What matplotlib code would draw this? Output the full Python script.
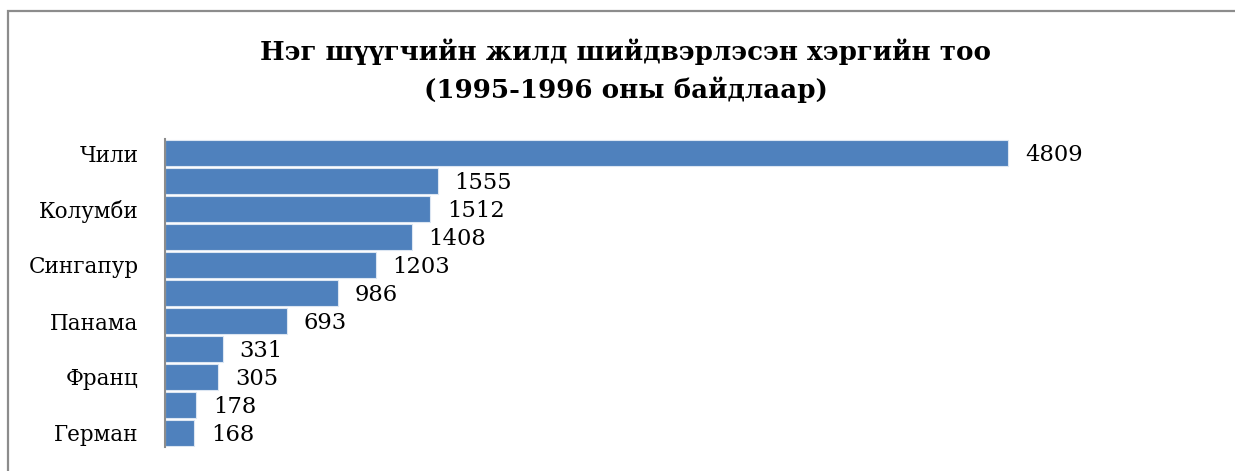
import matplotlib
matplotlib.use("Agg")
import matplotlib.pyplot as plt
from matplotlib.patches import Rectangle

categories = ["Чили", "", "Колумби", "", "Сингапур", "", "Панама", "", "Франц", "", "Герман"]
values = [4809, 1555, 1512, 1408, 1203, 986, 693, 331, 305, 178, 168]
title_lines = ["Нэг шүүгчийн жилд шийдвэрлэсэн хэргийн тоо", "(1995-1996 оны байдлаар)"]

W, H = 1235, 471
fig = plt.figure(figsize=(W / 100, H / 100), dpi=100)
plt.rcParams['font.family'] = ['DejaVu Serif']

# chart frame (cropped on right and bottom)
fig.patches.append(Rectangle((8 / W, -0.1), 1.2, 1 - 11 / H + 0.1, transform=fig.transFigure,
                             fill=False, edgecolor="#8c8c8c", linewidth=1.6))

ax = fig.add_axes([165 / W, 1 - 447 / H, (1217 - 165) / W, (447 - 139) / H])
y = list(range(len(values)))
ax.barh(y, values, height=0.91, color="#4F81BD", edgecolor="#dce6f2", linewidth=0.8)
ax.set_ylim(len(values) - 0.5, -0.5)
ax.set_xlim(0, 6000)
ax.set_yticks(y)
ax.set_yticklabels(categories, fontsize=15.5)
ax.tick_params(axis='y', length=0, pad=19)
ax.set_xticks([])
for s in ["top", "right", "bottom"]:
    ax.spines[s].set_visible(False)
ax.spines["left"].set_color("#8c8c8c")
ax.spines["left"].set_linewidth(1.5)

for yi, v in zip(y, values):
    ax.annotate(str(v), (v, yi), xytext=(12, -1.5), textcoords="offset points",
                va="center", ha="left", fontsize=16.3)

fig.text(626 / W, 1 - 52 / H, title_lines[0], ha="center", va="center",
         fontsize=18.8, fontweight="bold")
fig.text(626 / W, 1 - 90 / H, title_lines[1], ha="center", va="center",
         fontsize=18.8, fontweight="bold")

fig.savefig("out.png", dpi=100)
